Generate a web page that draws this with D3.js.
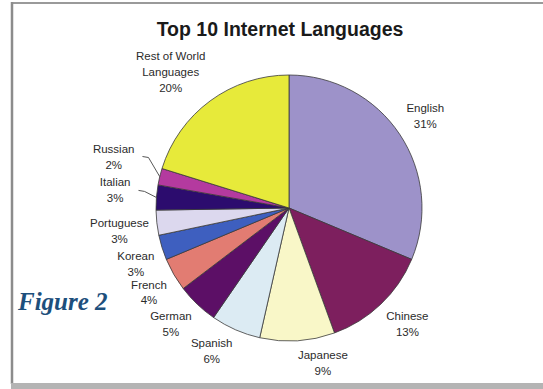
<!DOCTYPE html>
<html>
<head>
<meta charset="utf-8">
<script src="https://cdn.jsdelivr.net/npm/d3@7"></script>
<style>
  html, body { margin: 0; padding: 0; background: #fff; }
  #canvas { width: 543px; height: 389px; overflow: hidden; }
</style>
</head>
<body>
<div id="canvas"></div>
<script>
// data (percent of internet users)
var languages = ['English', 'Chinese', 'Japanese', 'Spanish', 'German', 'French',
                 'Korean', 'Portuguese', 'Italian', 'Russian', 'Rest of World Languages'];
var shares = [31, 13, 9, 6, 5, 4, 3, 3, 3, 2, 20];
var sliceColors = ['#9d92c9', '#7d1f5e', '#f9f7c8', '#dcebf3', '#5c0f66', '#e27c72',
                   '#3e5fbf', '#dcd8ee', '#2c0c6e', '#b43a9f', '#e7ea3a'];
// how the label text is broken into lines
var labelLines = [['English'], ['Chinese'], ['Japanese'], ['Spanish'], ['German'], ['French'],
                  ['Korean'], ['Portuguese'], ['Italian'], ['Russian'], ['Rest of World', 'Languages']];
// labels pulled away from the pie get a leader line
var withLeader = ['Russian', 'Italian'];

var W = 543, H = 389;
var cx = 289, cy = 208, r = 133;
var labelGap = 8, leaderGap = 26, lineH = 16;

var svg = d3.select('#canvas').append('svg')
  .attr('width', W)
  .attr('height', H);

// frame of the scanned figure
svg.append('rect').attr('x', 0).attr('y', 0).attr('width', W).attr('height', H).attr('fill', '#fff');
svg.append('line').attr('x1', 12).attr('y1', 3).attr('x2', W).attr('y2', 3)
  .attr('stroke', '#9a9a9a').attr('stroke-width', 2);
svg.append('line').attr('x1', 12).attr('y1', 2).attr('x2', 12).attr('y2', 384)
  .attr('stroke', '#8c8c8c').attr('stroke-width', 2.5);
svg.append('rect').attr('x', 11).attr('y', 383).attr('width', W - 11).attr('height', 6)
  .attr('fill', '#b4b4b4');

svg.append('text')
  .attr('x', 280).attr('y', 36)
  .attr('text-anchor', 'middle')
  .style('font-family', '"Liberation Sans", Arial, sans-serif')
  .style('font-weight', 'bold')
  .style('font-size', '19.5px')
  .attr('fill', '#1a1a1a')
  .text('Top 10 Internet Languages');

svg.append('text')
  .attr('x', 18).attr('y', 310)
  .style('font-family', '"Liberation Serif", "Times New Roman", serif')
  .style('font-weight', 'bold')
  .style('font-style', 'italic')
  .style('font-size', '25px')
  .attr('fill', '#1d4f7c')
  .text('Figure 2');

var rows = languages.map(function (d, i) {
  return { name: d, value: shares[i], color: sliceColors[i], lines: labelLines[i] };
});

var pie = d3.pie().sort(null).value(function (d) { return d.value; });
var arc = d3.arc().innerRadius(0).outerRadius(r);
var arcs = pie(rows);

var g = svg.append('g').attr('transform', 'translate(' + cx + ',' + cy + ')');

g.selectAll('path.slice').data(arcs)
  .enter().append('path')
  .attr('class', 'slice')
  .attr('d', arc)
  .attr('fill', function (d) { return d.data.color; })
  .attr('stroke', '#3a3a3a')
  .attr('stroke-width', 0.8)
  .attr('stroke-linejoin', 'round');

var midAngle = function (d) { return (d.startAngle + d.endAngle) / 2; };
var hasLeader = function (d) { return withLeader.indexOf(d.data.name) >= 0; };
var clamp = function (v) { return Math.max(-1, Math.min(1, v)); };

// labels: the text box hangs off the point on the slice's mid-angle just outside
// the pie, by its corner, or centred vertically when the slice points sideways
var labels = g.selectAll('text.lbl').data(arcs)
  .enter().append('text')
  .attr('class', 'lbl')
  .attr('text-anchor', 'middle')
  .style('font-family', '"Liberation Sans", Arial, sans-serif')
  .style('font-size', '11.5px')
  .attr('fill', '#2b2b2b')
  .each(function (d) {
    var t = d3.select(this);
    var lines = d.data.lines.concat([d.data.value + '%']);
    lines.forEach(function (s, i) {
      t.append('tspan')
        .attr('x', 0)
        .attr('y', i * lineH)
        .attr('dy', '0.35em')
        .text(s);
    });
    var b = this.getBBox();
    var a = midAngle(d);
    var R = r + (hasLeader(d) ? leaderGap : labelGap);
    var ax = R * Math.sin(a), ay = -R * Math.cos(a);
    // wanted centre of the box
    var mx = ax + b.width / 2 * clamp(20 * Math.sin(a));
    var my = ay + b.height / 2 * clamp(-4.5 * Math.cos(a));
    var tx = mx - (b.x + b.width / 2);
    var ty = my - (b.y + b.height / 2);
    t.attr('transform', 'translate(' + tx + ',' + ty + ')');
    d.box = { x: b.x + tx, y: b.y + ty, w: b.width, h: b.height };
  });

// leader lines for the small slices on the left
labels.filter(hasLeader)
  .each(function (d) {
    var a = midAngle(d);
    var sy = d.box.y + d.box.h / 2;
    var right = d.box.x + d.box.w;
    var pts = [[right + 8, sy],
               [right + 14, sy + 1],
               [r * Math.sin(a), -r * Math.cos(a)]];
    g.append('path')
      .attr('d', d3.line()(pts))
      .attr('fill', 'none')
      .attr('stroke', '#444')
      .attr('stroke-width', 0.9);
  });
</script>
</body>
</html>
